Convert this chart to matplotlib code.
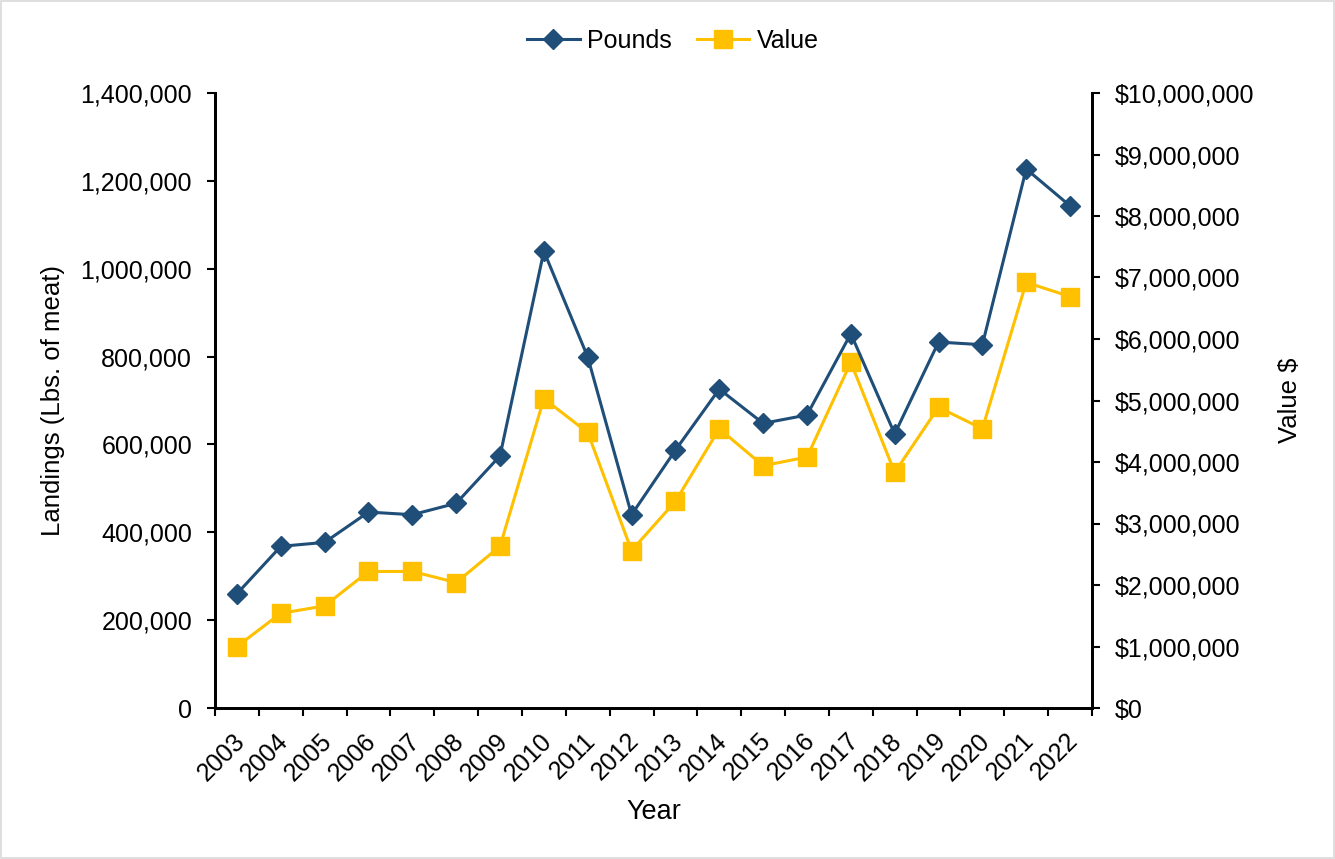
import matplotlib
matplotlib.use("Agg")
import matplotlib.pyplot as plt
import matplotlib.transforms as mtransforms
from matplotlib.patches import Rectangle
from matplotlib.ticker import FuncFormatter, MultipleLocator

plt.rcParams["font.family"] = ["Liberation Sans", "DejaVu Sans"]

years = [str(y) for y in range(2003, 2023)]
pounds = [260000, 368000, 377000, 446000, 440000, 466000, 574000, 1040000, 799000, 440000,
          587000, 726000, 648000, 667000, 852000, 624000, 833000, 827000, 1227000, 1143000]
value = [1000000, 1540000, 1660000, 2220000, 2220000, 2040000, 2630000, 5030000, 4480000, 2560000,
         3360000, 4540000, 3940000, 4080000, 5620000, 3830000, 4890000, 4540000, 6920000, 6690000]

NAVY = "#1F4E79"
GOLD = "#FFC000"
FS = 18

W, H = 1335, 859
fig = plt.figure(figsize=(W / 100, H / 100), dpi=100)
ax = fig.add_axes([215 / W, 1 - 708 / H, 877 / W, 615 / H])
ax2 = ax.twinx()

x = range(len(years))
l1, = ax.plot(x, pounds, color=NAVY, lw=2.2, marker="D", ms=10.5, zorder=3, label="Pounds")
l2, = ax2.plot(x, value, color=GOLD, lw=2.2, marker="s", ms=13.5, zorder=2, label="Value")
ax.set_zorder(ax2.get_zorder() + 1)
ax.patch.set_visible(False)

ax.set_xlim(-0.5, len(years) - 0.5)
ax.set_ylim(0, 1400000)
ax2.set_ylim(0, 10000000)
ax.yaxis.set_major_locator(MultipleLocator(200000))
ax2.yaxis.set_major_locator(MultipleLocator(1000000))
ax.yaxis.set_major_formatter(FuncFormatter(lambda v, p: f"{v:,.0f}"))
ax2.yaxis.set_major_formatter(FuncFormatter(lambda v, p: f"${v:,.0f}"))

# category ticks between labels, labels at centres
ax.set_xticks([i - 0.5 for i in range(len(years) + 1)])
ax.set_xticklabels([])
ax.set_xticks(list(x), minor=True)
ax.set_xticklabels(years, minor=True, rotation=45, ha="right", va="center",
                   rotation_mode="anchor", fontsize=FS)
ax.tick_params(axis="x", which="minor", length=0, pad=21)
ax.tick_params(axis="x", which="major", length=6, width=1.5, direction="out")
ax.tick_params(axis="y", length=5.5, width=1.5, labelsize=FS, pad=11)
ax2.tick_params(axis="y", length=5.5, width=1.5, labelsize=FS, pad=11)

shift = mtransforms.ScaledTranslation(0.04, 0, fig.dpi_scale_trans)
for lbl in ax.get_xticklabels(minor=True):
    lbl.set_transform(lbl.get_transform() + shift)

for a in (ax, ax2):
    a.spines["top"].set_visible(False)
    for s in ("left", "right", "bottom"):
        a.spines[s].set_linewidth(2)

ax.set_xlabel("Year", fontsize=19.5, va="center")
ax.xaxis.set_label_coords(0.5, (708 - 812) / 615)
ax.set_ylabel("Landings (Lbs. of meat)", fontsize=18.5, va="center")
ax.yaxis.set_label_coords((53 - 215) / 877, 0.5)
ax2.set_ylabel("Value $", fontsize=18.5, va="center")
ax2.yaxis.set_label_coords((1290 - 215) / 877, 0.5)

fig.legend(handles=[l1, l2], loc="center", bbox_to_anchor=(673 / W, 1 - 41 / H), ncol=2,
           frameon=False, fontsize=FS, handlelength=2.1, columnspacing=1.0, handletextpad=0.3)

fig.patches.append(Rectangle((1 / W, 1 / H), 1 - 2 / W, 1 - 2 / H, transform=fig.transFigure,
                             fill=False, edgecolor="#D9D9D9", lw=1.2))

fig.savefig("out.png", dpi=100)
